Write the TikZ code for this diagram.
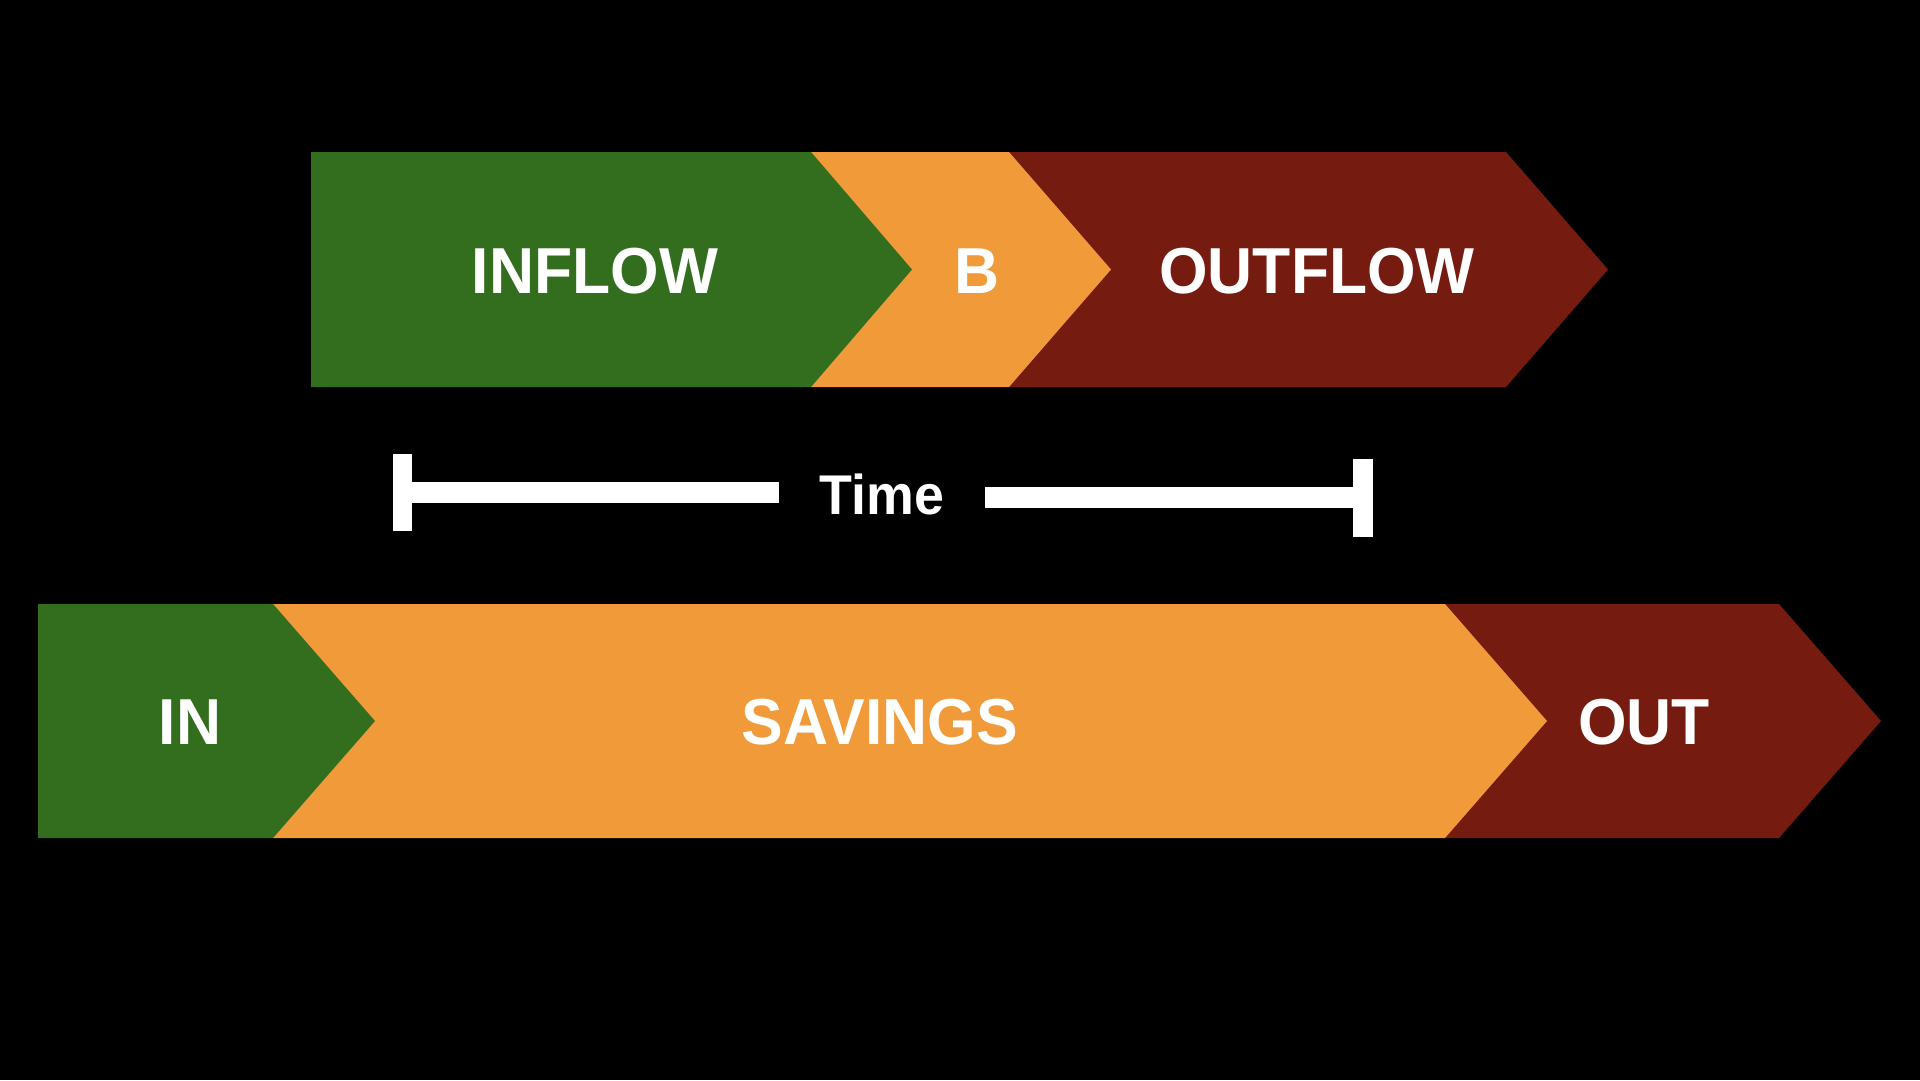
\documentclass[tikz,border=0pt]{standalone}
\usepackage{fontspec}
\setmainfont{Liberation Sans}
\newfontfamily\labfont[FakeStretch=0.96]{Liberation Sans}
\definecolor{cgreen}{RGB}{51,110,31}
\definecolor{corange}{RGB}{240,154,58}
\definecolor{cred}{RGB}{118,27,15}
\begin{document}
\begin{tikzpicture}[x=1pt,y=-1pt,
  lbl/.style={text=white,font=\labfont\fontsize{65}{65}\selectfont\bfseries,anchor=base,inner sep=0pt},
  tlbl/.style={text=white,font=\labfont\fontsize{56}{56}\selectfont\bfseries,anchor=base,inner sep=0pt},
  bar/.style={fill=white}]
\fill[black] (0,0) rectangle (1920,1080);
\useasboundingbox (0,0) rectangle (1920,1080);
% top row
\fill[cred] (1009,152) -- (1506,152) -- (1608,269.5) -- (1506,387) -- (1009,387) -- cycle;
\fill[corange] (811,152) -- (1009,152) -- (1111,269.5) -- (1009,387) -- (811,387) -- cycle;
\fill[cgreen] (311,152) -- (811,152) -- (912,269.5) -- (811,387) -- (311,387) -- cycle;
\node[lbl] (inflow) at (595,293) {INFLOW};
\node[lbl] (b) at (977,293) {B};
\node[lbl] (outflow) at (1317,293) {OUTFLOW};
% time bar
\fill[bar] (393,454) rectangle (412,531);
\fill[bar] (412,482) rectangle (779,503);
\node[tlbl] (time) at (882,514) {Time};
\fill[bar] (985,487) rectangle (1353,508);
\fill[bar] (1353,459) rectangle (1373,537);
% bottom row
\fill[cred] (1445,604) -- (1779,604) -- (1881,721) -- (1779,838) -- (1445,838) -- cycle;
\fill[corange] (273,604) -- (1445,604) -- (1547,721) -- (1445,838) -- (273,838) -- cycle;
\fill[cgreen] (38,604) -- (273,604) -- (375,721) -- (273,838) -- (38,838) -- cycle;
\node[lbl] (in) at (190,744) {IN};
\node[lbl] (savings) at (880,744) {SAVINGS};
\node[lbl] (out) at (1644,744) {OUT};
\end{tikzpicture}
\end{document}
